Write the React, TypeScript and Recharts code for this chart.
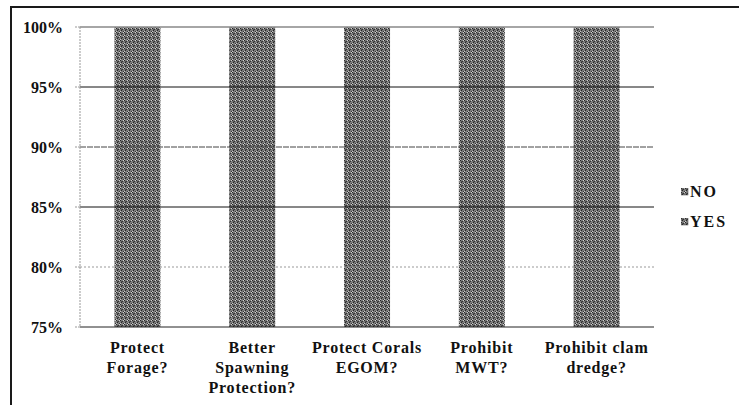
import { Bar, BarChart, Legend, ReferenceLine, XAxis, YAxis } from "recharts";

const categories = [
  "Protect\nForage?",
  "Better\nSpawning\nProtection?",
  "Protect Corals\nEGOM?",
  "Prohibit\nMWT?",
  "Prohibit clam\ndredge?"
];
const yesValues = [100, 100, 100, 100, 100];
const noValues = [0, 0, 0, 0, 0];
const yTicks = [75, 80, 85, 90, 95, 100];
const legendItems = ["NO", "YES"];

const data = categories.map((name, i) => ({ name, yes: yesValues[i], no: noValues[i] }));

const FONT = "'Liberation Serif', 'Times New Roman', serif";

function CategoryTick({ x, y, payload }: any) {
  const lines = String(payload.value).split("\n");
  return (
    <text
      x={x}
      y={y}
      textAnchor="middle"
      fontFamily={FONT}
      fontWeight="bold"
      fontSize={16}
      letterSpacing={0.8}
      fill="#111"
    >
      {lines.map((ln, i) => (
        <tspan key={i} x={x} dy={i === 0 ? 18 : 20}>
          {ln}
        </tspan>
      ))}
    </text>
  );
}

function LegendBox() {
  return (
    <div style={{ fontFamily: FONT, fontWeight: "bold", fontSize: 16, letterSpacing: 2, color: "#111" }}>
      {legendItems.map((item) => (
        <div key={item} style={{ display: "flex", alignItems: "center", height: 30 }}>
          <svg width={8} height={8} style={{ marginRight: 1 }}>
            <rect width={7} height={7} fill="url(#hatch)" stroke="#444" strokeWidth={0.5} />
          </svg>
          {item}
        </div>
      ))}
    </div>
  );
}

export default function App() {
  return (
    <div style={{ position: "absolute", left: 0, top: 0, width: 739, height: 405, background: "#fff" }}>
      <div
        style={{
          position: "absolute",
          left: 10,
          top: 6,
          right: 0,
          bottom: 0,
          borderTop: "2px solid #1a1a1a",
          borderLeft: "2px solid #1a1a1a"
        }}
      />
      <svg width={0} height={0} style={{ position: "absolute" }}>
        <defs>
          <pattern id="hatch" width={4} height={4} patternUnits="userSpaceOnUse">
            <rect width={4} height={4} fill="#7c7c7c" />
            <rect x={0} y={0} width={1} height={1} fill="#262626" />
            <rect x={2} y={1} width={1} height={1} fill="#333" />
            <rect x={1} y={2} width={1} height={1} fill="#262626" />
            <rect x={3} y={3} width={1} height={1} fill="#333" />
            <rect x={3} y={0} width={1} height={1} fill="#d0d0d0" />
            <rect x={1} y={1} width={1} height={1} fill="#505050" />
            <rect x={0} y={3} width={1} height={1} fill="#c8c8c8" />
          </pattern>
        </defs>
      </svg>
      <BarChart
        width={739}
        height={405}
        data={data}
        margin={{ top: 27, right: 85, bottom: 0, left: 0 }}
        barCategoryGap="30%"
        style={{ position: "absolute", left: 0, top: 0 }}
      >
        <XAxis
          dataKey="name"
          height={78}
          interval={0}
          stroke="#222"
          tickLine={false}
          tick={<CategoryTick />}
        />
        <YAxis
          width={80}
          domain={[75, 100]}
          ticks={yTicks}
          allowDataOverflow
          stroke="#999"
          strokeDasharray="2 1"
          tickSize={5}
          tickMargin={12}
          tickFormatter={(v) => `${v}%`}
          tick={{ fontFamily: FONT, fontWeight: "bold", fontSize: 16, fill: "#111" }}
        />
        <ReferenceLine y={100} stroke="#888" strokeWidth={1.5} />
        <ReferenceLine y={95} stroke="#111" />
        <ReferenceLine y={90} stroke="#444" strokeDasharray="6 1" />
        <ReferenceLine y={85} stroke="#111" />
        <ReferenceLine y={80} stroke="#999" strokeDasharray="2 2" />
        <Bar dataKey="yes" name="YES" stackId="a" fill="url(#hatch)" isAnimationActive={false} />
        <Bar dataKey="no" name="NO" stackId="a" fill="url(#hatch)" isAnimationActive={false} />
        <Legend
          layout="vertical"
          align="center"
          verticalAlign="middle"
          content={<LegendBox />}
          wrapperStyle={{ left: 681, top: 177, width: 58 }}
        />
      </BarChart>
    </div>
  );
}
